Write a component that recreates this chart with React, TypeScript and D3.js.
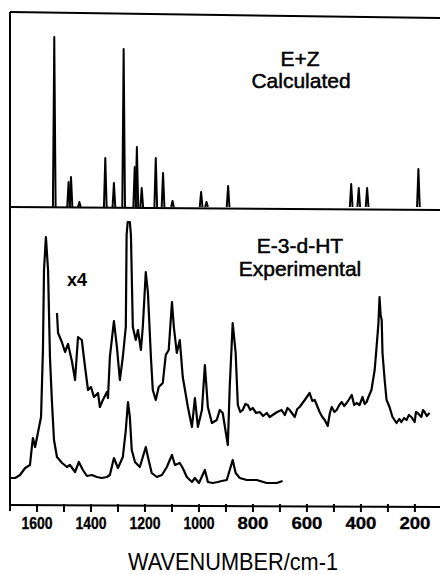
import React from 'react';
import * as d3 from 'd3';

// calculated E+Z spectrum: [wavenumber, relative intensity]
const calcPeaks: [number, number][] = [
  [1536, 170], [1483, 25], [1474, 30], [1443, 5], [1347, 49], [1315, 24],
  [1279, 158], [1238, 40], [1230, 60], [1212, 19], [1160, 49], [1133, 34],
  [1098, 6], [992, 15], [972, 5], [892, 21], [436, 23], [408, 19], [377, 19],
  [187, 38],
];

// experimental spectrum, full scale
const expLow: [number, number][] = [
  [1700, 27], [1681, 27], [1663, 30], [1644, 37], [1626, 40], [1619, 58], [1615, 67],
  [1607, 58], [1596, 73], [1585, 88], [1578, 155], [1574, 235], [1567, 268], [1559, 235],
  [1552, 148], [1545, 105], [1537, 65], [1526, 48], [1507, 42], [1489, 38], [1478, 40],
  [1459, 33], [1445, 43], [1430, 35], [1415, 29], [1397, 30], [1378, 28], [1360, 27],
  [1341, 28], [1330, 30], [1315, 47], [1300, 37], [1282, 48], [1271, 75], [1263, 103],
  [1256, 88], [1249, 55], [1237, 43], [1219, 38], [1208, 48], [1197, 58], [1189, 48],
  [1175, 32], [1156, 28], [1137, 30], [1119, 38], [1100, 50], [1089, 40], [1071, 42],
  [1060, 37], [1045, 28], [1026, 23], [1015, 27], [1000, 22], [978, 35], [967, 23],
  [949, 22], [930, 23], [916, 24], [897, 25], [886, 35], [875, 45], [864, 32], [849, 27],
  [823, 25], [786, 25], [749, 22], [712, 22], [690, 24],
];

// experimental spectrum, x4
const expHigh: [number, number][] = [
  [1526, 192], [1522, 172], [1508, 163], [1496, 153], [1485, 161], [1470, 143], [1459, 125],
  [1448, 168], [1434, 165], [1422, 138], [1411, 115], [1400, 118], [1389, 108], [1374, 112],
  [1367, 98], [1356, 105], [1341, 113], [1337, 107], [1330, 148], [1315, 184], [1304, 158],
  [1293, 125], [1282, 148], [1271, 178], [1268, 270], [1264, 283], [1256, 283], [1252, 270],
  [1245, 178], [1234, 165],
  [1226, 175], [1215, 155], [1208, 178], [1197, 233], [1189, 212], [1178, 148], [1171, 115],
  [1160, 105], [1149, 118], [1134, 122], [1123, 150], [1112, 155], [1100, 203], [1093, 178],
  [1082, 152], [1071, 165], [1060, 128], [1041, 98], [1026, 78], [1015, 107], [1004, 78],
  [989, 95], [978, 140], [967, 98], [952, 82], [934, 85], [923, 95], [912, 92], [893, 60],
  [886, 118], [875, 182], [864, 152], [856, 100], [847, 93], [838, 95], [828, 101], [819, 100],
  [810, 95], [801, 97], [788, 92], [775, 93], [762, 89], [749, 92], [738, 88], [727, 90],
  [710, 93], [694, 95], [682, 90], [672, 97], [664, 95], [645, 88], [636, 96], [627, 98],
  [608, 105], [590, 112], [580, 104], [571, 105], [553, 93], [543, 88], [534, 85], [523, 79],
  [515, 92], [508, 98], [498, 93], [490, 95], [480, 100], [471, 103], [462, 99], [453, 102],
  [443, 106], [434, 110], [425, 100], [416, 102], [405, 100], [394, 108], [386, 101], [379, 103],
  [372, 108], [361, 115], [349, 135], [342, 158], [335, 182], [331, 208], [327, 190], [323, 185],
  [320, 152], [312, 125], [305, 105], [294, 98], [283, 88], [268, 82], [258, 86], [250, 83],
  [240, 87], [231, 85], [222, 90], [213, 88], [201, 83], [196, 93], [190, 92], [176, 88],
  [170, 95], [164, 93], [156, 89], [146, 92],
];

const tickValues = d3.range(1600, 199, -100);
const tickLabels = [1600, 1400, 1200, 1000, 800, 600, 400, 200];

const W = 440;
const H = 574;

export default function App() {
  const x = d3.scaleLinear().domain([1700, 107]).range([10, 440]);
  const yCalc = d3.scaleLinear().domain([0, 194]).range([207, 13]);
  const yExp = d3.scaleLinear().domain([0, 290]).range([505, 215]);
  const axisY = 505;

  const lineExp = d3.line<[number, number]>()
    .x(d => x(d[0]))
    .y(d => yExp(d[1]));

  const hw = 5;
  const stick = (p: [number, number]) =>
    d3.line<[number, number]>().x(d => x(d[0])).y(d => yCalc(d[1]))([
      [p[0] + hw, 0], [p[0], p[1]], [p[0] - hw, 0],
    ]);

  const titleFont = '"Liberation Sans", Arial, sans-serif';
  const labelStyle = { stroke: '#000', strokeWidth: 0.5 };

  return (
    <svg width={W} height={H} style={{ position: 'absolute', left: 0, top: 0, background: '#fff' }}>
      {/* frame */}
      <line x1={10} y1={12} x2={440} y2={18} stroke="#000" strokeWidth={2} />
      <line x1={10} y1={12} x2={10} y2={511} stroke="#000" strokeWidth={2} />
      <line x1={10} y1={axisY} x2={440} y2={axisY + 2} stroke="#000" strokeWidth={2} />

      {/* calculated */}
      <line x1={x(1700)} y1={yCalc(0)} x2={x(107)} y2={yCalc(0) + 3} stroke="#000" strokeWidth={2} />
      {calcPeaks.map((p, i) => (
        <path key={i} d={stick(p) || ''} fill="none" stroke="#000" strokeWidth={2} strokeLinejoin="round" />
      ))}

      {/* experimental */}
      <path d={lineExp(expLow) || ''} fill="none" stroke="#000" strokeWidth={2.2} strokeLinejoin="round" />
      <path d={lineExp(expHigh) || ''} fill="none" stroke="#000" strokeWidth={2.2} strokeLinejoin="round" />

      {/* ticks */}
      {tickValues.map(t => (
        <line key={t} x1={x(t)} y1={axisY - 1} x2={x(t)} y2={axisY + 7} stroke="#000" strokeWidth={2} />
      ))}
      {tickLabels.map(t => (
        <text key={t} x={x(t)} y={529} textAnchor="middle" fontFamily={titleFont} fontWeight="bold"
          fontSize={16} textLength={31} lengthAdjust="spacingAndGlyphs" style={{ stroke: '#000', strokeWidth: 0.3 }}>{t}</text>
      ))}

      <text x={128} y={570} fontFamily={titleFont} fontSize={24} textLength={210}
        lengthAdjust="spacingAndGlyphs">WAVENUMBER/cm-1</text>

      {/* labels */}
      <text x={300} y={66} textAnchor="middle" fontFamily={titleFont} fontSize={21} style={labelStyle}>E+Z</text>
      <text x={301} y={88} textAnchor="middle" fontFamily={titleFont} fontSize={21} style={labelStyle}>Calculated</text>
      <text x={300} y={253} textAnchor="middle" fontFamily={titleFont} fontSize={21} style={labelStyle}>E-3-d-HT</text>
      <text x={300} y={276} textAnchor="middle" fontFamily={titleFont} fontSize={21} style={labelStyle}>Experimental</text>
      <text x={67} y={286} fontFamily={titleFont} fontSize={18} fontWeight="bold">x4</text>
    </svg>
  );
}
